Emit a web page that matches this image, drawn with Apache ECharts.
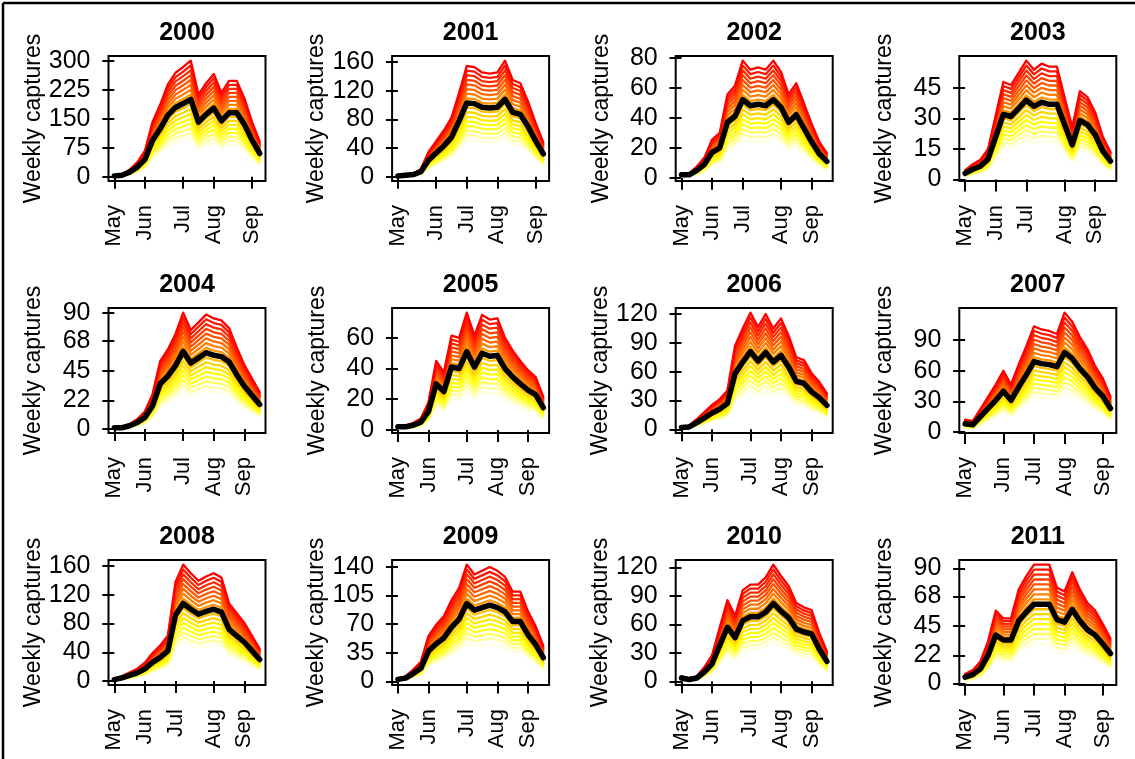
<!DOCTYPE html>
<html>
<head>
<meta charset="utf-8">
<title>Weekly captures 2000-2011</title>
<script src="https://cdn.jsdelivr.net/npm/echarts@6/dist/echarts.min.js"></script>
<style>
  html, body { margin: 0; padding: 0; background: #fff; }
  #chart { width: 1135px; height: 759px; }
</style>
</head>
<body>
<div id="chart"></div>
<script>
// weekly samples, May to late September (20 per season)
const weekIndex = [0, 1, 2, 3, 4, 5, 6, 7, 8, 9, 10, 11, 12, 13, 14, 15, 16, 17, 18, 19];
const monthLabels = ['May', 'Jun', 'Jul', 'Aug', 'Sep'];
const years = ['2000', '2001', '2002', '2003', '2004', '2005', '2006', '2007', '2008', '2009', '2010', '2011'];

// observed weekly captures (black line)
const captures2000 = [2, 4, 12, 25, 45, 95, 125, 160, 180, 190, 201, 142, 162, 178, 145, 166, 166, 136, 95, 61];
const captures2001 = [1, 2, 3, 7, 23, 33, 43, 55, 78, 103, 102, 97, 96, 97, 108, 90, 87, 70, 50, 32];
const captures2002 = [2, 2, 5, 9, 17, 20, 37, 41, 52, 48, 49, 48, 52, 47, 37, 42, 33, 24, 16, 11];
const captures2003 = [3, 5, 6.5, 10, 21, 32, 31, 35, 39, 36, 38, 37, 37, 27, 17, 29, 27, 22, 14, 9];
const captures2004 = [1, 1, 2.5, 5, 9, 18, 35, 41, 49, 60, 51, 55, 59, 57, 56, 52, 42, 33, 26, 19];
const captures2005 = [2, 2, 3, 5, 12, 30, 25, 41, 40, 51, 41, 50, 48, 48.5, 40, 34.5, 30, 26, 23, 14.5];
const captures2006 = [2, 2.5, 7, 12, 17, 21, 27, 58, 70, 81, 71, 80, 70, 77, 65, 50, 48, 39, 33, 25];
const captures2007 = [8, 7, 15, 23, 31, 40, 31, 44, 56, 69, 67, 66, 64, 78, 72, 62, 54, 43, 35, 23];
const captures2008 = [2, 4.5, 8, 11.5, 17, 26, 33, 42, 92, 108, 100, 93, 97, 100, 96, 72, 63, 54, 42, 30];
const captures2009 = [2.5, 4, 9.6, 16, 37, 46, 53, 66, 76, 95, 87, 90, 93, 90, 85, 73, 73, 57, 45, 29];
const captures2010 = [3.5, 2, 3.5, 10, 18.5, 38, 57, 46, 64, 68, 68, 73, 82, 74, 67, 55, 52, 50, 34, 21];
const captures2011 = [5, 7, 11.5, 22, 38, 34, 34, 49, 56, 62, 62, 62, 50, 48, 58, 49, 42, 38, 31, 23.5];

// week index where each month label sits
const monthTicks2000 = [0, 4, 9, 13, 18];
const monthTicks2001 = [0, 5, 9, 13, 18];
const monthTicks2002 = [0, 4, 8, 13, 17];
const monthTicks2003 = [0, 4, 8, 13, 17];
const monthTicks2004 = [0, 4, 9, 13, 17];
const monthTicks2005 = [0, 4, 9, 13, 17];
const monthTicks2006 = [0, 4, 9, 13, 17];
const monthTicks2007 = [0, 5, 9, 13, 18];
const monthTicks2008 = [0, 4, 8, 13, 17];
const monthTicks2009 = [0, 4, 9, 13, 17];
const monthTicks2010 = [0, 4, 9, 13, 17];
const monthTicks2011 = [0, 5, 9, 13, 18];

// y tick labels
const yTicks2000 = [0, 75, 150, 225, 300];
const yTicks2001 = [0, 40, 80, 120, 160];
const yTicks2002 = [0, 20, 40, 60, 80];
const yTicks2003 = [0, 15, 30, 45];
const yTicks2004 = [0, 22, 45, 68, 90];
const yTicks2005 = [0, 20, 40, 60];
const yTicks2006 = [0, 30, 60, 90, 120];
const yTicks2007 = [0, 30, 60, 90];
const yTicks2008 = [0, 40, 80, 120, 160];
const yTicks2009 = [0, 35, 70, 105, 140];
const yTicks2010 = [0, 30, 60, 90, 120];
const yTicks2011 = [0, 22, 45, 68, 90];

// rescaled runs drawn behind the observed line (yellow = low, red = high)
const runScale = [0.5, 0.5625, 0.625, 0.6875, 0.75, 0.8125, 0.875, 0.9375, 1.0,
                  1.0625, 1.125, 1.1875, 1.25, 1.3125, 1.375, 1.4375, 1.5];

const panels = [
  { year: years[0], captures: captures2000, months: monthTicks2000, yTicks: yTicks2000 },
  { year: years[1], captures: captures2001, months: monthTicks2001, yTicks: yTicks2001 },
  { year: years[2], captures: captures2002, months: monthTicks2002, yTicks: yTicks2002 },
  { year: years[3], captures: captures2003, months: monthTicks2003, yTicks: yTicks2003 },
  { year: years[4], captures: captures2004, months: monthTicks2004, yTicks: yTicks2004 },
  { year: years[5], captures: captures2005, months: monthTicks2005, yTicks: yTicks2005 },
  { year: years[6], captures: captures2006, months: monthTicks2006, yTicks: yTicks2006 },
  { year: years[7], captures: captures2007, months: monthTicks2007, yTicks: yTicks2007 },
  { year: years[8], captures: captures2008, months: monthTicks2008, yTicks: yTicks2008 },
  { year: years[9], captures: captures2009, months: monthTicks2009, yTicks: yTicks2009 },
  { year: years[10], captures: captures2010, months: monthTicks2010, yTicks: yTicks2010 },
  { year: years[11], captures: captures2011, months: monthTicks2011, yTicks: yTicks2011 }
];

// same as R's heat.colors(n)
function heatColors(n) {
  const j = Math.floor(n / 4), i = n - j;
  const out = [];
  for (let k = 0; k < i; k++) {
    const g = Math.round(255 * k / (i - 1));
    out.push('rgb(255,' + g + ',0)');
  }
  for (let k = 0; k < j; k++) {
    const s = (1 - 1 / (2 * j)) - k * ((1 - 1 / j) / (j - 1));
    out.push('rgb(255,255,' + Math.round(255 * (1 - s)) + ')');
  }
  return out;
}
const heat = heatColors(runScale.length);

const FONT = '"Liberation Sans", Arial, sans-serif';
const boxLeft0 = 108.5, colStep = 283.6, boxTop0 = 56, rowStep = 252;
const boxW = 157, boxH = 125;

const grids = [], xAxes = [], yAxes = [], series = [], graphics = [];

panels.forEach(function (p, idx) {
  const col = idx % 4, row = Math.floor(idx / 4);
  const left = boxLeft0 + col * colStep;
  const top = boxTop0 + row * rowStep;

  grids.push({
    left: left, top: top, width: boxW, height: boxH,
    show: true, borderColor: '#000', borderWidth: 2, backgroundColor: 'transparent',
    containLabel: false, outerBoundsMode: 'none'
  });

  let lo = Infinity, hi = -Infinity;
  runScale.forEach(function (f, j) {
    const data = weekIndex.map(function (w, k) { return [w, p.captures[k] * f]; });
    data.forEach(function (d) { lo = Math.min(lo, d[1]); hi = Math.max(hi, d[1]); });
    series.push({
      type: 'line', xAxisIndex: idx, yAxisIndex: idx, data: data,
      symbol: 'none', silent: true, z: 2,
      lineStyle: { color: heat[runScale.length - 1 - j], width: 2.3, cap: 'round', join: 'round' }
    });
  });
  series.push({
    type: 'line', xAxisIndex: idx, yAxisIndex: idx,
    data: weekIndex.map(function (w, k) { return [w, p.captures[k]]; }),
    symbol: 'none', silent: true, z: 3,
    lineStyle: { color: '#000', width: 5.5, cap: 'round', join: 'round' }
  });

  const pad = 0.04 * (hi - lo);
  const xPad = 0.04 * (weekIndex[weekIndex.length - 1] - weekIndex[0]);
  const months = p.months;

  xAxes.push({
    gridIndex: idx, type: 'value',
    min: weekIndex[0] - xPad, max: weekIndex[weekIndex.length - 1] + xPad,
    axisLine: { show: false }, splitLine: { show: false },
    axisTick: { show: true, inside: false, length: 12, customValues: months,
                lineStyle: { color: '#000', width: 2 } },
    axisLabel: {
      customValues: months, rotate: 90, margin: 24, fontSize: 22,
      color: '#000', fontFamily: FONT,
      formatter: function (v) { return monthLabels[months.indexOf(v)] || ''; }
    }
  });

  yAxes.push({
    gridIndex: idx, type: 'value', min: lo - pad, max: hi + pad,
    axisLine: { show: false }, splitLine: { show: false },
    axisTick: { show: true, inside: false, length: 12, customValues: p.yTicks,
                lineStyle: { color: '#000', width: 2 } },
    axisLabel: { customValues: p.yTicks, margin: 18, fontSize: 25, color: '#000', fontFamily: FONT },
    name: 'Weekly captures', nameLocation: 'middle', nameGap: 63,
    nameTextStyle: { fontSize: 23, color: '#000', fontFamily: FONT }
  });

  graphics.push({
    type: 'text', x: left + boxW / 2, y: top - 23, silent: true,
    style: { text: p.year, fill: '#000', font: 'bold 25px ' + FONT,
             textAlign: 'center', textVerticalAlign: 'middle' }
  });
});

// frame along the top and left edge
graphics.push({ type: 'line', silent: true, shape: { x1: 3, y1: 3, x2: 1135, y2: 3 },
                style: { stroke: '#000', lineWidth: 2.5 } });
graphics.push({ type: 'line', silent: true, shape: { x1: 3, y1: 3, x2: 3, y2: 759 },
                style: { stroke: '#000', lineWidth: 2.5 } });

const myChart = echarts.init(document.getElementById('chart'));
myChart.setOption({
  animation: false,
  backgroundColor: '#fff',
  grid: grids,
  xAxis: xAxes,
  yAxis: yAxes,
  series: series,
  graphic: graphics
});
</script>
</body>
</html>
